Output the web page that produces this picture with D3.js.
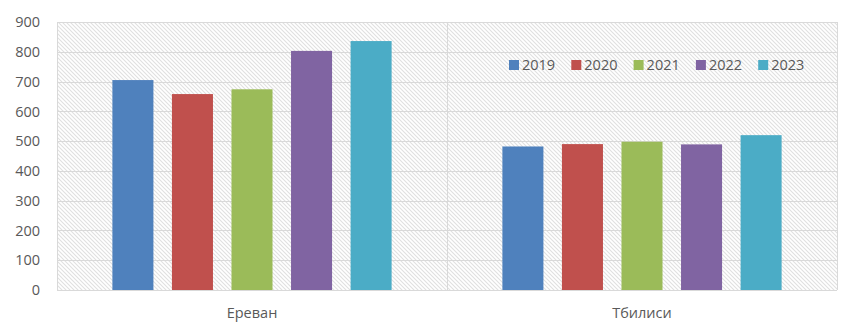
<!DOCTYPE html>
<html><head><meta charset="utf-8">
<script src="https://cdn.jsdelivr.net/npm/d3@7"></script>
<style>body{margin:0;background:#fff;}svg{display:block;font-family:"Open Sans",sans-serif;}</style>
</head><body><svg id="c" width="864" height="334"></svg>
<script>
const categories = ["Ереван", "Tбилиси"];
const years = ["2019", "2020", "2021", "2022", "2023"];
const values2019 = [705, 482];
const values2020 = [658, 490];
const values2021 = [674, 498];
const values2022 = [803, 489];
const values2023 = [836, 520];
const yTicks = [0, 100, 200, 300, 400, 500, 600, 700, 800, 900];
const colors = ["#4f81bd", "#c0504d", "#9bbb59", "#8064a2", "#4bacc6"];

const series = [values2019, values2020, values2021, values2022, values2023];
const svg = d3.select("#c");
const L = 57, R = 837, T = 22, B = 290;

const defs = svg.append("defs");
const pat = defs.append("pattern").attr("id","hatch").attr("patternUnits","userSpaceOnUse")
  .attr("width",4).attr("height",4);
pat.append("rect").attr("width",4).attr("height",4).attr("fill","#fff");
pat.append("path").attr("d","M-1,-1 L5,5 M-1,3 L1,5 M3,-1 L5,1").attr("stroke","#e0e0e0").attr("stroke-width",1.1);

const x0 = d3.scaleBand().domain(categories).range([L, R]).paddingInner(0).paddingOuter(0);
const x1 = d3.scaleBand().domain(years).range([0, x0.bandwidth()]).paddingInner(0.311).paddingOuter(0.93);
const y = d3.scaleLinear().domain([0, 900]).range([B, T]);

svg.append("rect").attr("x",L).attr("y",T).attr("width",R-L).attr("height",B-T).attr("fill","url(#hatch)");

// gridlines
svg.append("g").selectAll("line").data(yTicks).join("line")
  .attr("x1",L).attr("x2",R).attr("y1",d=>Math.round(y(d))+0.5).attr("y2",d=>Math.round(y(d))+0.5)
  .attr("stroke","#d9d9d9").attr("stroke-width",1);
// vertical separators
const seps = [L, x0(categories[1]), R];
svg.append("g").selectAll("line").data(seps).join("line")
  .attr("x1",d=>Math.round(d)+0.5).attr("x2",d=>Math.round(d)+0.5).attr("y1",T).attr("y2",B)
  .attr("stroke","#d9d9d9").attr("stroke-width",1);

// bars
categories.forEach((c, ci) => {
  svg.append("g").selectAll("rect").data(years).join("rect")
    .attr("x", (yr) => x0(c) + x1(yr))
    .attr("width", x1.bandwidth())
    .attr("y", (yr, i) => y(series[i][ci]))
    .attr("height", (yr, i) => y(0) - y(series[i][ci]))
    .attr("fill", (yr, i) => colors[i]);
});

// y axis labels
svg.append("g").selectAll("text").data(yTicks).join("text")
  .attr("x", 40).attr("y", d => y(d)).attr("dy","0.36em")
  .attr("text-anchor","end").attr("font-size","14.5px").attr("fill","#595959")
  .text(d => d);

// category labels
svg.append("g").selectAll("text").data(categories).join("text")
  .attr("x", d => x0(d) + x0.bandwidth()/2).attr("y", 313).attr("dy","0.36em")
  .attr("text-anchor","middle").attr("font-size","14.5px").attr("fill","#595959")
  .text(d => d);

// legend
const lg = svg.append("g").attr("transform","translate(509,65)");
const items = lg.selectAll("g").data(years).join("g").attr("transform",(d,i)=>`translate(${i*62.3},0)`);
items.append("rect").attr("x",0).attr("y",-5).attr("width",10).attr("height",10).attr("fill",(d,i)=>colors[i]);
items.append("text").attr("x",13).attr("y",0).attr("dy","0.36em").attr("font-size","14.5px").attr("fill","#595959").text(d=>d);
</script></body></html>
